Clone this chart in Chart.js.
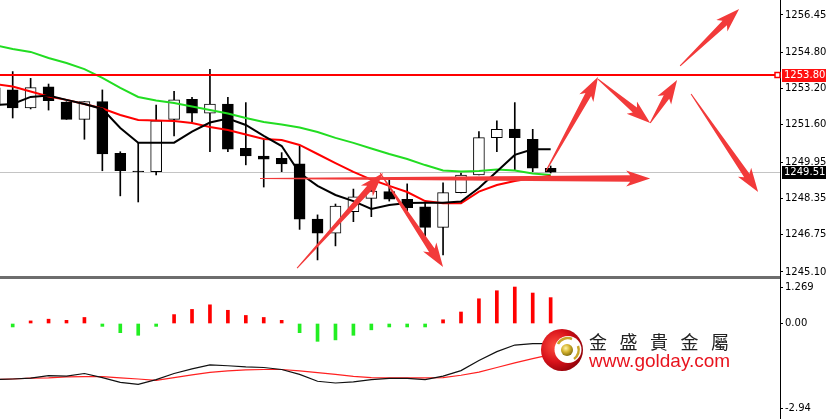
<!DOCTYPE html>
<html>
<head>
<meta charset="utf-8">
<script src="https://cdn.jsdelivr.net/npm/chart.js@4.4.1/dist/chart.umd.min.js"></script>
<style>
  html, body { margin: 0; padding: 0; background: #fff; }
  #wrap { position: relative; width: 829px; height: 419px; overflow: hidden; background: #fff; }
  #mainBox { position: absolute; left: 0; top: 0; }
  #subBox { position: absolute; left: 0; top: 279px; }
  #sep { position: absolute; left: 0; top: 276px; width: 781px; height: 3px; background: #6d6d6d; }
  #axisGap { position: absolute; left: 780px; top: 276px; width: 1px; height: 3px; background: #000; }
  #emblem { position: absolute; left: 541px; top: 328px; }
  .brand { position: absolute; left: 589px; top: 332px; font: 18px/18px "Noto Sans CJK TC", "Noto Sans CJK SC", sans-serif; letter-spacing: 12.5px; color: #222; white-space: nowrap; }
  .site { position: absolute; left: 589px; top: 351px; font: 19px/19px "Liberation Sans", Arial, sans-serif; color: #e8141e; white-space: nowrap; }
</style>
</head>
<body>
<div id="wrap">
  <div id="mainBox"><canvas id="main" width="829" height="276"></canvas></div>
  <div id="sep"></div>
  <div id="axisGap"></div>
  <div id="subBox"><canvas id="sub" width="829" height="140"></canvas></div>
  <svg id="emblem" width="44" height="44" viewBox="0 0 44 44">
    <defs>
      <radialGradient id="rg" cx="35%" cy="40%" r="70%">
        <stop offset="0" stop-color="#ff5040"/>
        <stop offset="0.55" stop-color="#d8121a"/>
        <stop offset="1" stop-color="#8a0008"/>
      </radialGradient>
      <radialGradient id="gg" cx="40%" cy="35%" r="65%">
        <stop offset="0" stop-color="#fff4a8"/>
        <stop offset="0.5" stop-color="#d6b530"/>
        <stop offset="1" stop-color="#857010"/>
      </radialGradient>
    </defs>
    <circle cx="21" cy="22" r="21" fill="url(#rg)"/>
    <circle cx="27" cy="21.5" r="13.5" fill="#fff"/>
    <path d="M 17 16 A 11 11 0 0 1 31 11" stroke="#c9a52a" stroke-width="2.5" fill="none"/>
    <path d="M 37 18 A 11 11 0 0 1 33 31" stroke="#c9a52a" stroke-width="2.5" fill="none"/>
    <circle cx="26" cy="22" r="6" fill="url(#gg)"/>
  </svg>
  <div class="brand">金盛貴金屬</div>
  <div class="site">www.golday.com</div>
</div>
<script>
// bar index (-1 is the partly hidden bar at the left edge)
const bars = [-1, 0, 1, 2, 3, 4, 5, 6, 7, 8, 9, 10, 11, 12, 13, 14, 15, 16, 17, 18, 19, 20, 21, 22, 23, 24, 25, 26, 27, 28, 29, 30];

const opens  = [1253.23, 1253.14, 1252.34, 1253.28, 1252.60, 1251.84, 1252.62, 1250.34, 1249.55, 1249.53, 1251.84, 1252.73, 1252.11, 1252.52, 1250.56, 1250.22, 1250.12, 1249.87, 1247.43, 1246.81, 1247.76, 1248.35, 1248.65, 1248.31, 1247.98, 1247.07, 1248.60, 1249.38, 1251.03, 1251.41, 1250.96, 1249.68];
const highs  = [1253.40, 1253.95, 1253.65, 1253.40, 1252.62, 1252.62, 1253.14, 1250.41, 1250.80, 1252.47, 1253.08, 1252.81, 1254.05, 1252.81, 1252.58, 1250.96, 1250.37, 1250.66, 1247.62, 1248.10, 1248.76, 1249.04, 1249.16, 1248.99, 1248.15, 1249.04, 1249.47, 1251.30, 1251.78, 1252.58, 1251.40, 1249.78];
const lows   = [1252.30, 1251.90, 1252.30, 1252.25, 1251.84, 1250.96, 1249.57, 1248.46, 1248.19, 1249.38, 1251.11, 1251.74, 1250.41, 1250.41, 1249.83, 1248.85, 1249.53, 1246.98, 1245.63, 1246.25, 1247.32, 1247.54, 1248.23, 1247.62, 1246.69, 1245.85, 1248.59, 1249.38, 1250.41, 1249.60, 1249.53, 1249.47];
const closes = [1252.47, 1252.34, 1253.24, 1252.66, 1251.84, 1252.62, 1250.31, 1249.57, 1249.53, 1251.78, 1252.70, 1252.11, 1252.52, 1250.52, 1250.22, 1250.08, 1249.87, 1247.43, 1246.81, 1248.01, 1248.42, 1248.67, 1248.31, 1247.94, 1247.07, 1248.60, 1249.38, 1251.03, 1251.40, 1251.03, 1249.68, 1249.51];

const maFast = [1252.47, 1252.52, 1252.83, 1252.89, 1252.70, 1252.52, 1252.30, 1251.46, 1250.81, 1250.81, 1250.81, 1251.30, 1251.70, 1251.88, 1251.59, 1251.11, 1250.66, 1249.47, 1248.90, 1248.50, 1248.23, 1247.88, 1248.06, 1248.15, 1248.16, 1248.16, 1248.21, 1248.81, 1249.54, 1250.27, 1250.52, 1250.52];
const maMid  = [1253.40, 1253.29, 1253.07, 1252.85, 1252.70, 1252.52, 1252.32, 1252.03, 1251.81, 1251.79, 1251.77, 1251.68, 1251.50, 1251.37, 1251.17, 1250.97, 1250.93, 1250.71, 1250.31, 1249.91, 1249.52, 1249.18, 1248.90, 1248.63, 1248.23, 1248.13, 1248.13, 1248.65, 1248.94, 1249.12, 1249.25, 1249.34];
const maSlow = [1255.12, 1254.95, 1254.82, 1254.55, 1254.33, 1254.06, 1253.67, 1253.23, 1252.83, 1252.67, 1252.56, 1252.41, 1252.25, 1252.10, 1251.90, 1251.72, 1251.61, 1251.48, 1251.28, 1251.02, 1250.80, 1250.55, 1250.31, 1250.09, 1249.82, 1249.58, 1249.54, 1249.56, 1249.63, 1249.58, 1249.45, 1249.38];

const oscHist   = [-0.05, -0.12, 0.09, 0.15, 0.11, 0.21, -0.10, -0.32, -0.41, -0.10, 0.31, 0.49, 0.65, 0.46, 0.28, 0.21, 0.11, -0.32, -0.62, -0.57, -0.41, -0.22, -0.12, -0.12, -0.12, 0.13, 0.40, 0.86, 1.14, 1.269, 1.06, 0.90];
const oscMain   = [-1.95, -1.93, -1.90, -1.81, -1.83, -1.74, -1.88, -2.05, -2.12, -1.95, -1.74, -1.58, -1.44, -1.47, -1.51, -1.53, -1.60, -1.77, -2.01, -2.07, -2.03, -1.95, -1.91, -1.91, -1.95, -1.83, -1.64, -1.29, -0.98, -0.75, -0.70, -0.70];
const oscSignal = [-1.95, -1.93, -1.90, -1.89, -1.86, -1.85, -1.85, -1.89, -1.93, -1.98, -1.88, -1.79, -1.70, -1.65, -1.61, -1.60, -1.60, -1.65, -1.71, -1.77, -1.84, -1.88, -1.89, -1.89, -1.89, -1.88, -1.80, -1.69, -1.53, -1.37, -1.22, -1.08];

const priceTicks = [1256.45, 1254.80, 1253.20, 1251.60, 1249.95, 1248.35, 1246.75, 1245.10];
const oscTicks = [1.269, 0, -2.94];
const oscTickLabels = ['1.269', '0.00', '-2.94'];

const resistance = 1253.80;
const lastPrice = closes[closes.length - 1];

// hand-drawn arrows: [fromBar, fromPrice, toBar, toPrice]
const arrows = [
  [15.86, 1245.27, 20.65, 1249.47],
  [20.49, 1249.47, 24.00, 1245.32],
  [13.79, 1249.23, 35.55, 1249.23],
  [29.74, 1249.56, 32.64, 1253.71],
  [32.64, 1253.62, 35.55, 1251.68],
  [35.55, 1251.68, 37.05, 1253.58],
  [37.22, 1254.20, 40.51, 1256.71],
  [37.83, 1252.96, 41.57, 1248.63]
];

const xMin = -0.708, xMax = 42.79;
const axisFont = { family: 'DejaVu Sans', size: 10 };

function drawArrow(ctx, x1, y1, x2, y2) {
  const dx = x2 - x1, dy = y2 - y1, len = Math.hypot(dx, dy);
  const ux = dx / len, uy = dy / len, nx = -uy, ny = ux;
  const headL = 20, headW = 16, shaft = 6.5, tail = 1, notch = 4;
  const bx = x2 - ux * headL, by = y2 - uy * headL;
  const wx = bx - ux * notch, wy = by - uy * notch;
  ctx.beginPath();
  ctx.moveTo(x1 + nx * tail / 2, y1 + ny * tail / 2);
  ctx.lineTo(bx + nx * shaft / 2, by + ny * shaft / 2);
  ctx.lineTo(wx + nx * headW / 2, wy + ny * headW / 2);
  ctx.lineTo(x2, y2);
  ctx.lineTo(wx - nx * headW / 2, wy - ny * headW / 2);
  ctx.lineTo(bx - nx * shaft / 2, by - ny * shaft / 2);
  ctx.lineTo(x1 - nx * tail / 2, y1 - ny * tail / 2);
  ctx.closePath();
  ctx.fill();
}

function priceTag(ctx, area, yPix, text, bg) {
  ctx.fillStyle = bg;
  ctx.fillRect(area.right + 2, Math.round(yPix) - 6, 44, 13);
  ctx.fillStyle = '#fff';
  ctx.font = '10px "DejaVu Sans"';
  ctx.textBaseline = 'middle';
  ctx.textAlign = 'left';
  ctx.fillText(text, area.right + 4, Math.round(yPix) + 0.5);
}

const mainOverlay = {
  id: 'mainOverlay',
  beforeDatasetsDraw(chart) {
    const { ctx, chartArea: a, scales: { y } } = chart;
    const py = Math.round(y.getPixelForValue(lastPrice)) + 0.5;
    ctx.save();
    ctx.strokeStyle = '#c4c4c4';
    ctx.lineWidth = 1;
    ctx.beginPath(); ctx.moveTo(a.left, py); ctx.lineTo(a.right, py); ctx.stroke();
    ctx.restore();
  },
  afterDatasetsDraw(chart) {
    const { ctx, chartArea: a, scales: { x, y } } = chart;
    ctx.save();
    const ry = Math.round(y.getPixelForValue(resistance));
    ctx.strokeStyle = '#ff0000';
    ctx.lineWidth = 2;
    ctx.beginPath(); ctx.moveTo(a.left, ry); ctx.lineTo(a.right - 4, ry); ctx.stroke();
    ctx.fillStyle = '#fff';
    ctx.fillRect(a.right - 5, ry - 2.5, 5, 5);
    ctx.lineWidth = 1.5;
    ctx.strokeRect(a.right - 5, ry - 2.5, 5, 5);
    ctx.fillStyle = '#f23a3a';
    arrows.forEach(([b1, p1, b2, p2]) => {
      drawArrow(ctx, x.getPixelForValue(b1), y.getPixelForValue(p1), x.getPixelForValue(b2), y.getPixelForValue(p2));
    });
    ctx.restore();
  },
  afterDraw(chart) {
    const { ctx, chartArea: a, scales: { y } } = chart;
    ctx.save();
    priceTag(ctx, a, y.getPixelForValue(resistance), resistance.toFixed(2), '#ff1010');
    priceTag(ctx, a, y.getPixelForValue(lastPrice), lastPrice.toFixed(2), '#000');
    ctx.restore();
  }
};

function rightAxis(min, max, ticks, labelFn) {
  return {
    position: 'right',
    min: min, max: max,
    border: { display: true, color: '#000', width: 1 },
    grid: { drawOnChartArea: false, tickLength: 3, color: '#000' },
    ticks: { font: axisFont, color: '#000', padding: 2, autoSkip: false, callback: labelFn },
    afterBuildTicks: s => { s.ticks = ticks.map(v => ({ value: v })); },
    afterFit: s => { s.width = 49; s.paddingTop = 0; s.paddingBottom = 0; }
  };
}

const pts = arr => bars.map((b, k) => ({ x: b, y: arr[k] }));

new Chart(document.getElementById('main'), {
  type: 'bar',
  data: {
    datasets: [
      { type: 'line', data: pts(maFast), borderColor: '#000', borderWidth: 2, pointRadius: 0, tension: 0 },
      { type: 'line', data: pts(maMid), borderColor: '#ff0000', borderWidth: 2, pointRadius: 0, tension: 0 },
      { type: 'line', data: pts(maSlow), borderColor: '#22dd22', borderWidth: 2, pointRadius: 0, tension: 0 },
      {
        data: bars.map((b, k) => ({ x: b, y: [opens[k], closes[k]] })),
        backgroundColor: bars.map((b, k) => closes[k] < opens[k] ? '#000' : '#fff'),
        borderColor: '#000', borderWidth: 1, borderSkipped: false,
        barThickness: 11, grouped: false
      },
      {
        data: bars.map((b, k) => ({ x: b, y: [lows[k], highs[k]] })),
        backgroundColor: '#000', borderWidth: 0, barThickness: 1, grouped: false
      }
    ]
  },
  options: {
    responsive: false, animation: false, events: [],
    layout: { padding: 0 },
    plugins: { legend: { display: false }, tooltip: { enabled: false } },
    scales: {
      x: { type: 'linear', display: false, offset: false, min: xMin, max: xMax },
      y: rightAxis(1244.92, 1257.1125, priceTicks, v => v.toFixed(2))
    }
  },
  plugins: [mainOverlay]
});

new Chart(document.getElementById('sub'), {
  type: 'bar',
  data: {
    datasets: [
      { type: 'line', data: pts(oscMain), borderColor: '#111', borderWidth: 1.2, pointRadius: 0, tension: 0 },
      { type: 'line', data: pts(oscSignal), borderColor: '#ff2020', borderWidth: 1.2, pointRadius: 0, tension: 0 },
      {
        data: pts(oscHist),
        backgroundColor: oscHist.map(v => v >= 0 ? '#ff0000' : '#22ee22'),
        borderWidth: 0, barThickness: 3, grouped: false
      }
    ]
  },
  options: {
    responsive: false, animation: false, events: [],
    layout: { padding: 0 },
    plugins: { legend: { display: false }, tooltip: { enabled: false } },
    scales: {
      x: { type: 'linear', display: false, offset: false, min: xMin, max: xMax },
      y: rightAxis(-3.322, 1.548, oscTicks, (v, i) => oscTickLabels[i])
    }
  }
});
</script>
</body>
</html>
